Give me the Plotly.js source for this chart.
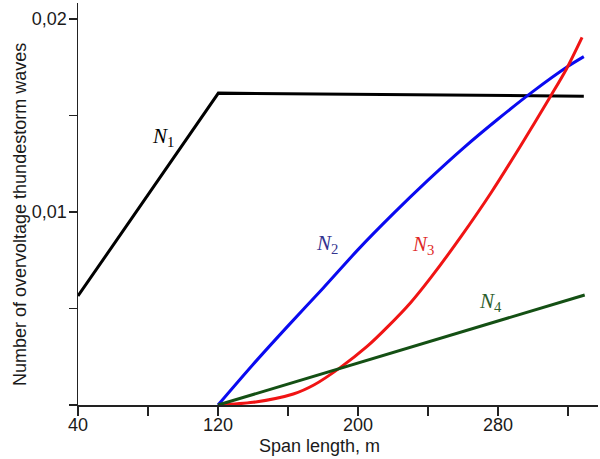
<!DOCTYPE html>
<html>
<head>
<meta charset="utf-8">
<script src="https://cdn.plot.ly/plotly-3.0.1.min.js"></script>
<style>html,body{margin:0;padding:0;background:#fff;}#chart{width:600px;height:459px;}</style>
</head>
<body>
<div id="chart"></div>
<script>
// Span length (m) and number of overvoltage thunderstorm waves
const spanN1 = [40, 120.2, 329];
const valN1 = [0.00565, 0.01616, 0.0160];

const spanN2 = [120, 140, 160, 180, 200, 220, 240, 260, 280, 300, 320, 329];
const valN2 = [0, 0.00210, 0.00410, 0.00605, 0.00805, 0.00990, 0.01165, 0.01330, 0.01482, 0.01625, 0.01755, 0.01805];

const spanN3 = [120, 140, 163, 175, 190, 205, 217, 230, 242, 259, 276, 293, 310, 319, 328];
const valN3 = [0, 0.00014, 0.00057, 0.00105, 0.00195, 0.00302, 0.00406, 0.00530, 0.00665, 0.00875, 0.01100, 0.01345, 0.01600, 0.01740, 0.01905];

const spanN4 = [120, 329.5];
const valN4 = [0, 0.0057];

const xTickVals = [40, 80, 120, 160, 200, 240, 280, 320];
const xTickText = ['40', '', '120', '', '200', '', '280', ''];
const yTickVals = [0, 0.005, 0.01, 0.015, 0.02];
const yTickText = ['', '', '0,01', '', '0,02'];

const seriesLabels = [
  {text: '<i>N</i><sub>1</sub>', x: 88.6, y: 0.01389, color: '#000000'},
  {text: '<i>N</i><sub>2</sub>', x: 182.3, y: 0.00834, color: '#33338f'},
  {text: '<i>N</i><sub>3</sub>', x: 237.1, y: 0.00829, color: '#e02828'},
  {text: '<i>N</i><sub>4</sub>', x: 275.4, y: 0.00534, color: '#2d5e2d'}
];

const traces = [
  {x: spanN1, y: valN1, mode: 'lines', line: {color: '#000000', width: 3}},
  {x: spanN2, y: valN2, mode: 'lines', line: {color: '#0a0af0', width: 3, shape: 'spline', smoothing: 0.8}},
  {x: spanN3, y: valN3, mode: 'lines', line: {color: '#f01414', width: 3, shape: 'spline', smoothing: 0.8}},
  {x: spanN4, y: valN4, mode: 'lines', line: {color: '#145014', width: 3}}
];

const annotations = seriesLabels.map(l => ({
  text: l.text, x: l.x, y: l.y, xref: 'x', yref: 'y', showarrow: false,
  xanchor: 'center', yanchor: 'middle',
  font: {family: 'Liberation Serif, Times New Roman, serif', size: 21, color: l.color}
}));
annotations.push({
  text: 'Span length, m', xref: 'paper', yref: 'paper', x: (319 - 78) / 520, y: -(446 - 405) / 402,
  xanchor: 'center', yanchor: 'middle',
  showarrow: false, font: {family: 'Liberation Sans, Arial, sans-serif', size: 18, color: '#1a1a1a'}
});
annotations.push({
  text: 'Number of overvoltage thundestorm waves', xref: 'paper', yref: 'paper',
  x: -(78 - 20) / 520, y: (405 - 215) / 402, textangle: -90, showarrow: false,
  xanchor: 'center', yanchor: 'middle',
  font: {family: 'Liberation Sans, Arial, sans-serif', size: 18, color: '#1a1a1a'}
});

const layout = {
  width: 600, height: 459,
  margin: {l: 78, r: 2, t: 3, b: 54},
  paper_bgcolor: '#ffffff', plot_bgcolor: '#ffffff',
  showlegend: false,
  xaxis: {
    range: [40, 337.1], tickmode: 'array', tickvals: xTickVals, ticktext: xTickText,
    ticks: 'outside', ticklen: 9, tickwidth: 1.5, tickcolor: '#222',
    showline: true, linecolor: '#222', linewidth: 1.5, showgrid: false, zeroline: false,
    ticklabelstandoff: -6,
    tickfont: {family: 'Liberation Sans, Arial, sans-serif', size: 18, color: '#1a1a1a'}
  },
  yaxis: {
    range: [0, 0.02083], tickmode: 'array', tickvals: yTickVals, ticktext: yTickText,
    ticks: 'outside', ticklen: 8, tickwidth: 1.5, tickcolor: '#222',
    showline: true, linecolor: '#222', linewidth: 1.5, showgrid: false, zeroline: false,
    ticklabelstandoff: -2,
    tickfont: {family: 'Liberation Sans, Arial, sans-serif', size: 18, color: '#1a1a1a'}
  },
  annotations: annotations
};

Plotly.newPlot('chart', traces, layout, {displayModeBar: false, staticPlot: true});
</script>
</body>
</html>
